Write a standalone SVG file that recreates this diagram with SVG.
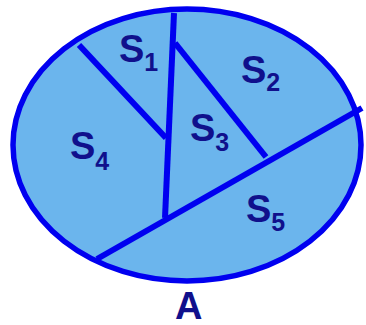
<svg xmlns="http://www.w3.org/2000/svg" width="366" height="325" viewBox="0 0 366 325">
<style>
.lbl{font-family:"Liberation Sans",Arial,sans-serif;font-weight:bold;font-size:38px;fill:#10108c}
.sub{font-size:25px}
.edge{stroke:#0000f0;stroke-width:6;stroke-linecap:butt;fill:none}
</style>
<g id="region">
<ellipse cx="187" cy="145" rx="174" ry="136" fill="#6bb5ed" stroke="#0000f0" stroke-width="5.5"/>
</g>
<g id="connectors">
<line class="edge" x1="174" y1="13" x2="165" y2="218"/>
<line class="edge" x1="79" y1="45" x2="166" y2="138"/>
<line class="edge" x1="175" y1="43" x2="266" y2="157"/>
<line class="edge" x1="97" y1="259" x2="362" y2="108"/>
</g>
<g id="s1"><text class="lbl" x="119" y="62">S<tspan class="sub" dy="9">1</tspan></text></g>
<g id="s2"><text class="lbl" x="241" y="83">S<tspan class="sub" dy="8">2</tspan></text></g>
<g id="s3"><text class="lbl" x="190" y="141">S<tspan class="sub" dy="10">3</tspan></text></g>
<g id="s4"><text class="lbl" x="70" y="159">S<tspan class="sub" dy="11">4</tspan></text></g>
<g id="s5"><text class="lbl" x="246" y="222">S<tspan class="sub" dy="9">5</tspan></text></g>
<g id="a"><text class="lbl" x="175" y="319">A</text></g>
</svg>
